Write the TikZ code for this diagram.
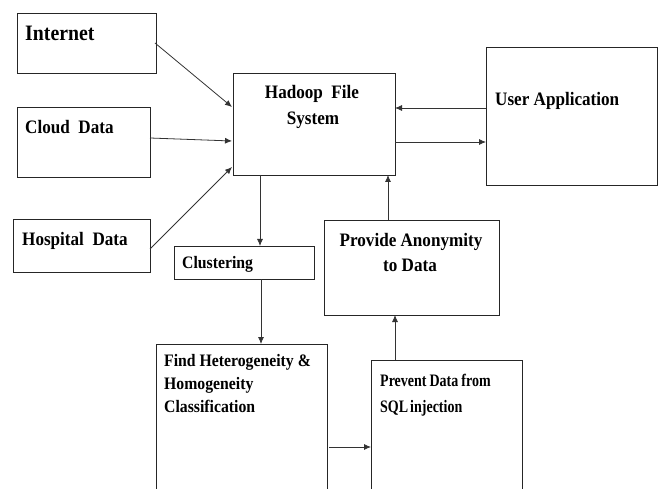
\documentclass[tikz,border=0pt]{standalone}
\usepackage{fontspec}
\setmainfont[FakeStretch=0.9]{Liberation Serif}
\newfontfamily\condfont[FakeStretch=0.8]{Liberation Serif}
\usetikzlibrary{arrows.meta}
\tikzset{
  box/.style={draw=black!85, line width=0.9pt, rectangle, inner sep=0pt, outer sep=0pt},
  lbl/.style={inner sep=0pt, anchor=base west, font=\bfseries\fontsize{19}{24}\selectfont},
  clbl/.style={lbl, anchor=base},
  sml/.style={lbl, font=\bfseries\fontsize{17.5}{22}\selectfont},
  cnd/.style={lbl, font=\condfont\bfseries\fontsize{17.5}{22}\selectfont},
  conn/.style={draw=black!80, line width=0.8pt, -{Latex[length=7pt,width=6pt]}}
}
\newcommand{\mkbox}[5]{\node[box, minimum width={(#4-#2)*1pt}, minimum height={(#5-#3)*1pt}] (#1) at ({(#2+#4)/2},{(#3+#5)/2}) {};}
\begin{document}
\begin{tikzpicture}[x=1pt,y=-1pt]
\useasboundingbox (0,0) rectangle (664,489);
\clip (0,0) rectangle (664,489);
\mkbox{internet}{17}{13}{156}{73}
\mkbox{cloud}{17}{107}{150}{177}
\mkbox{hospital}{13}{219}{150}{272}
\mkbox{hadoop}{233}{73}{395}{175}
\mkbox{user}{486}{47}{657}{185}
\mkbox{provide}{324}{220}{499}{315}
\mkbox{clust}{174}{246}{314}{279}
\mkbox{find}{156}{344}{327}{500}
\mkbox{prevent}{371}{360}{522}{500}

\node[lbl, font=\bfseries\fontsize{22}{26}\selectfont] (tinternet) at (25,41) {Internet};
\node[lbl] (tcloud) at (25,134) {Cloud\ \ Data};
\node[lbl] (thospital) at (22,245) {Hospital\ \ Data};
\node[clbl] (thadoop1) at (312,99) {Hadoop\ \ File};
\node[clbl] (thadoop2) at (313,125) {System};
\node[lbl] (tuser) at (495,106) {User Application};
\node[clbl] (tprovide1) at (411,247) {Provide Anonymity};
\node[clbl] (tprovide2) at (410,271) {to Data};
\node[sml] (tclust) at (182,269) {Clustering};
\node[sml] (tfind1) at (164,366) {Find Heterogeneity \&};
\node[sml] (tfind2) at (164,389) {Homogeneity};
\node[sml] (tfind3) at (164,412) {Classification};
\node[cnd] (tprevent1) at (380,386) {Prevent\hspace{3pt}Data\hspace{3pt}from};
\node[cnd] (tprevent2) at (380,412) {SQL\hspace{2pt}injection};

\coordinate (ia) at (155,43);
\coordinate (ib) at (232,107);
\draw[conn] (ia) -- (ib);
\coordinate (ca) at (150,138);
\coordinate (cb) at (232,141);
\draw[conn] (ca) -- (cb);
\coordinate (ha) at (150,249);
\coordinate (hb) at (232,167);
\draw[conn] (ha) -- (hb);
\draw[conn] (user.west |- 0,108) -- (hadoop.east |- 0,108);
\draw[conn] (hadoop.east |- 0,142) -- (user.west |- 0,142);
\draw[conn] (hadoop.south -| 260,0) -- (clust.north -| 260,0);
\draw[conn] (clust.south -| 261,0) -- (find.north -| 261,0);
\draw[conn] (provide.north -| 388,0) -- (hadoop.south -| 388,0);
\draw[conn] (prevent.north -| 395,0) -- (provide.south -| 395,0);
\coordinate (fa) at (329,447);
\draw[conn] (fa) -- (prevent.west |- fa);
\end{tikzpicture}
\end{document}
